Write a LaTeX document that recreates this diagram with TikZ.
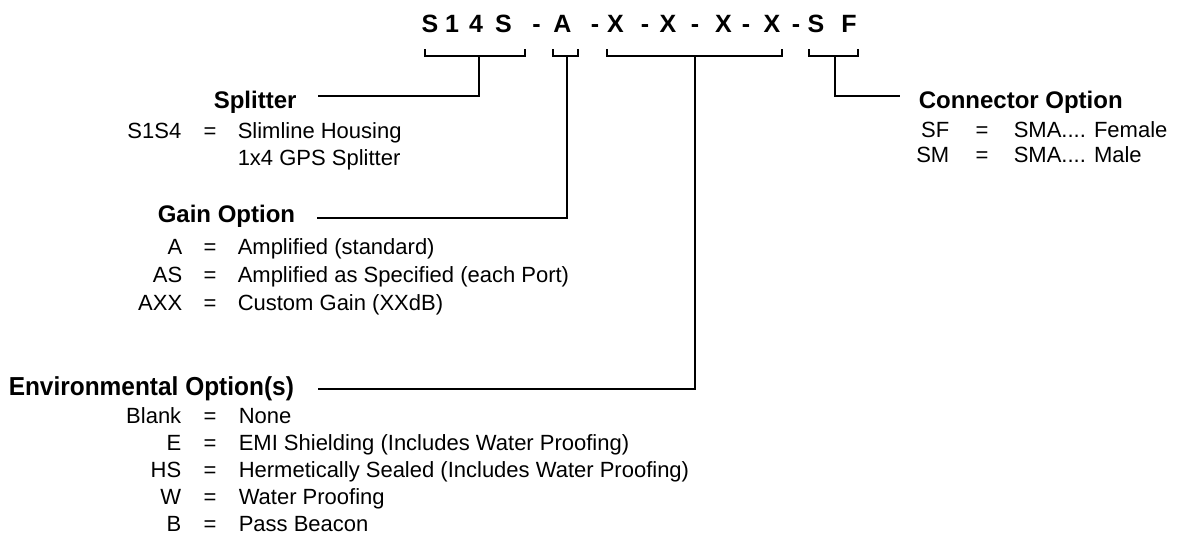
\documentclass[tikz,border=0pt]{standalone}
\usepackage{fontspec}
\setmainfont{Liberation Sans}
\newfontfamily\envheadfont[FakeStretch=0.94]{Liberation Sans Bold}

\begin{document}
\begin{tikzpicture}[x=0.5pt,y=-0.5pt,line width=0.75pt,
  code/.style={font=\fontsize{12.5}{15}\selectfont\bfseries,anchor=base,inner sep=0pt},
  head/.style={font=\fontsize{12}{14}\selectfont\bfseries,anchor=base west,inner sep=0pt},
  key/.style={font=\fontsize{11}{13}\selectfont,anchor=base east,inner sep=0pt},
  eq/.style={font=\fontsize{11}{13}\selectfont,anchor=base,inner sep=0pt},
  val/.style={font=\fontsize{11}{13}\selectfont,anchor=base west,inner sep=0pt}]
\useasboundingbox (0,0) rectangle (1177,542);

% part number
\foreach \ch/\cx [count=\i] in {S/430,1/452,4/476,S/503.5,-/536.5,A/562.5,-/595,X/615.5,-/645,X/668,-/695,X/723.5,-/746,X/772,-/796,S/816,F/849}
  \node[code] (c\i) at (\cx,32) {\ch};

% brackets
\foreach \l/\r/\m/\nm in {425/525/479/splitbr,553/578/567/gainbr,607/782/695/envbr,809/858/835/connbr} {
  \draw (\l,49) |- (\r,56) -- (\r,49);
  \coordinate (\nm) at (\m,56);
}

% splitter
\node[head] (splithead) at (213,108) {Splitter};
\coordinate (splitend) at (318,96);
\draw (splitbr) |- (splitend);
\node[key] (splitk) at (182,138) {S1S4};
\node[eq] (splite) at (210,138) {=};
\node[val] (splitv) at (237,138) {Slimline Housing};
\node[val] (splitv2) at (237,165) {1x4 GPS Splitter};

% gain
\node[head] (gainhead) at (157,222) {Gain Option};
\coordinate (gainend) at (317,218);
\draw (gainbr) |- (gainend);
\foreach \k/\v [count=\i] in {A/Amplified (standard),AS/Amplified as Specified (each Port),AXX/Custom Gain (XXdB)} {
  \pgfmathsetmacro\yy{254+28*(\i-1)}
  \node[key] (gaink\i) at (183,\yy) {\k};
  \node[eq] (gaine\i) at (210,\yy) {=};
  \node[val] (gainv\i) at (237,\yy) {\v};
}

% environmental
\node[head,font=\fontsize{13}{15}\envheadfont] (envhead) at (8,395) {Environmental Option(s)};
\coordinate (envend) at (318,389);
\draw (envbr) |- (envend);
\foreach \k/\v [count=\i] in {Blank/None,E/EMI Shielding (Includes Water Proofing),HS/Hermetically Sealed (Includes Water Proofing),W/Water Proofing,B/Pass Beacon} {
  \pgfmathsetmacro\yy{423+27*(\i-1)}
  \node[key] (envk\i) at (182,\yy) {\k};
  \node[eq] (enve\i) at (210,\yy) {=};
  \node[val] (envv\i) at (238,\yy) {\v};
}

% connector
\node[head] (connhead) at (918,108) {Connector Option};
\coordinate (connend) at (900,96);
\draw (connbr) |- (connend);
\node[key] (connk1) at (950,137) {SF};
\node[eq] (conne1) at (982,137) {=};
\node[val] (connv1) at (1013,137) {SMA.... Female};
\node[key] (connk2) at (950,162) {SM};
\node[eq] (conne2) at (982,162) {=};
\node[val] (connv2) at (1013,162) {SMA.... Male};
\end{tikzpicture}
\end{document}
